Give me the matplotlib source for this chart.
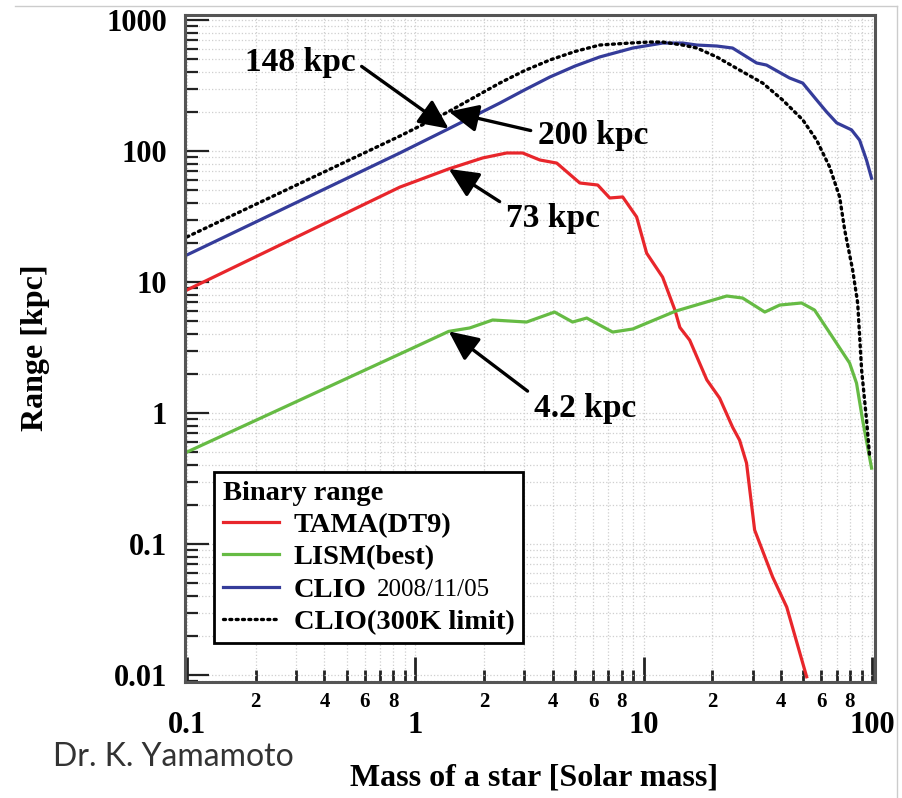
import numpy as np
import matplotlib
matplotlib.use("Agg")
import matplotlib.pyplot as plt
from matplotlib.ticker import LogLocator, FuncFormatter, NullFormatter, FixedLocator
from matplotlib.lines import Line2D

plt.rcParams['font.family'] = ['Liberation Serif', 'DejaVu Serif']
plt.rcParams['font.weight'] = 'bold'

# Binary inspiral range vs. component mass
tama_mass = [0.1, 0.855, 1.4, 1.97, 2.51, 2.95, 3.51, 4.16, 5.25, 6.29, 7.10, 8.09, 9.31,
             10.3, 12.1, 13.7, 14.4, 15.9, 18.9, 21.5, 24.5, 26.3, 28.2, 30.6, 36.7, 42.3, 51.7]
tama_range = [8.7, 53, 73, 88.5, 96.6, 96.6, 85.4, 80.9, 57.0, 55.0, 43.8, 44.6, 31.4,
              16.6, 10.9, 6.1, 4.5, 3.6, 1.79, 1.30, 0.78, 0.62, 0.415, 0.128, 0.056, 0.033, 0.0097]

lism_mass = [0.1, 1.0, 1.4, 1.73, 2.18, 3.07, 4.07, 4.88, 5.63, 7.31, 8.95, 13.8, 23.1,
             27.1, 33.9, 39.4, 49.1, 56.0, 67.1, 79.7, 85.5, 90.9, 99.5]
lism_range = [0.504, 3.2, 4.2, 4.46, 5.13, 4.95, 5.90, 4.95, 5.31, 4.15, 4.38, 6.0, 7.82,
              7.55, 5.90, 6.67, 6.92, 6.11, 3.80, 2.41, 1.69, 0.885, 0.38]

clio_mass = [0.1, 0.855, 1.4, 2.34, 3.0, 3.88, 5.0, 6.41, 8.95, 12.1, 14.8, 17.1, 20.9, 24.5,
             31.2, 34.5, 43.5, 49.7, 57.2, 63.2, 70.0, 81.3, 88.2, 94.6, 99.5]
clio_range = [16.1, 96.6, 148, 232, 292, 367, 445, 522, 611, 667, 667, 644, 633, 611,
              470, 453, 361, 330, 245, 199, 164, 145, 121, 85, 62]

limit_mass = [0.1, 0.855, 1.4, 2.34, 3.0, 3.88, 5.0, 6.41, 8.69, 10.6, 12.1, 14.8, 17.1,
              20.9, 26.3, 33.2, 40.6, 49.7, 57.2, 65.2, 72.1, 75.9, 82.2, 86.5, 90.0, 94.6, 97.5]
limit_range = [22.1, 130, 200, 330, 410, 495, 575, 644, 667, 679, 679, 644, 611,
               522, 415, 330, 245, 173, 121, 75.5, 44.6, 24.9, 12.4, 6.9, 2.13, 0.885, 0.478]

ns_mass = 1.4
callouts = [("148 kpc", 148, (0.313, 478), (1.0, 0.5)),
            ("200 kpc", 200, (5.98, 132), (0.0, 0.6)),
            ("73 kpc", 73, (4.0, 30.8), (0.0, 0.9)),
            ("4.2 kpc", 4.2, (5.52, 1.09), (0.0, 0.9))]

c_red, c_green, c_blue = '#e8262b', '#66bb44', '#353c9a'

fig = plt.figure(figsize=(9.03, 7.98), dpi=100)
ax = fig.add_axes([185/903, 1-682/798, 690/903, 667/798])

lw = 2.3
l1, = ax.plot(tama_mass, tama_range, color=c_red, lw=lw, label='TAMA(DT9)')
l2, = ax.plot(lism_mass, lism_range, color=c_green, lw=lw, label='LISM(best)')
l3, = ax.plot(clio_mass, clio_range, color=c_blue, lw=lw, label='CLIO')
l4, = ax.plot(limit_mass, limit_range, color='black', lw=2.4, linestyle=(0, (0.6, 1.3)),
              dash_capstyle='round', label='CLIO(300K limit)')

ax.set_xscale('log')
ax.set_yscale('log')
ax.set_xlim(0.098, 103)
ax.set_ylim(0.00885, 1092)

ax.xaxis.set_major_locator(FixedLocator([0.1, 1, 10, 100]))
ax.xaxis.set_minor_locator(LogLocator(base=10, subs=np.arange(2, 10)))
ax.yaxis.set_major_locator(FixedLocator([0.01, 0.1, 1, 10, 100, 1000]))
ax.yaxis.set_minor_locator(LogLocator(base=10, subs=np.arange(2, 10)))

ax.xaxis.set_major_formatter(FuncFormatter(lambda v, p: f"{v:g}"))
ax.yaxis.set_major_formatter(FuncFormatter(lambda v, p: f"{v:g}"))


def minor_fmt(v, p):
    m = int(round(v / 10 ** np.floor(np.log10(v) + 1e-9)))
    return str(m) if m in (2, 4, 6, 8) else ''


ax.xaxis.set_minor_formatter(FuncFormatter(minor_fmt))
ax.yaxis.set_minor_formatter(NullFormatter())

ax.tick_params(which='both', direction='in', top=False, right=False, color='#222222')
ax.tick_params(axis='x', which='major', length=18, width=2, labelsize=22, pad=21)
ax.tick_params(axis='x', which='minor', length=9, width=2, labelsize=15, pad=7)
ax.tick_params(axis='y', which='major', length=17, width=1.6, labelsize=22, pad=13)
ax.tick_params(axis='y', which='minor', length=9, width=1.6)

ax.grid(True, which='both', linestyle=':', color='#cfcfcf', lw=0.9)
ax.set_axisbelow(True)
for s in ax.spines.values():
    s.set_color('#555555')
    s.set_linewidth(2.2)

fig.text(36/903, 1-348/798, 'Range [kpc]', rotation=90, ha='center', va='center', fontsize=23)
fig.text(534/903, 1-778/798, 'Mass of a star [Solar mass]', ha='center', va='center', fontsize=23)
fig.text(53/903, 1-766/798, 'Dr. K. Yamamoto', ha='left', va='baseline', fontsize=23,
         family='Lato', weight='normal', color='#333333')

for text, val, pos, rp in callouts:
    ax.annotate(text, xy=(ns_mass, val), xytext=pos, ha='center', va='center', fontsize=24,
                arrowprops=dict(arrowstyle='-|>,head_length=0.9,head_width=0.42', color='black',
                                lw=2.4, relpos=rp, shrinkA=3, shrinkB=0, mutation_scale=20))

leg = ax.legend(handles=[l1, l2, l3, l4], loc='lower left', bbox_to_anchor=(0.042, 0.058),
                title='Binary range', alignment='left', fontsize=20.5, title_fontsize=20.5,
                frameon=True, fancybox=False, framealpha=1, edgecolor='black',
                handlelength=2.0, handletextpad=0.5, borderpad=0.3, labelspacing=0.22,
                borderaxespad=0)
leg.get_frame().set_linewidth(2)
leg.get_title().set_fontweight('bold')

fig.canvas.draw()
clio_txt = leg.get_texts()[2]
bb = clio_txt.get_window_extent().transformed(fig.transFigure.inverted())
fig.text(bb.x1 + 10/903, (bb.y0 + bb.y1) / 2, '2008/11/05', ha='left', va='center',
         fontsize=18, weight='normal')

# image border lines
fig.add_artist(Line2D([15/903, 897/903], [1-6/798, 1-6/798], color='#cccccc', lw=1))
fig.add_artist(Line2D([897/903, 897/903], [1-6/798, 0], color='#cccccc', lw=1))

fig.savefig('out.png', dpi=100)
